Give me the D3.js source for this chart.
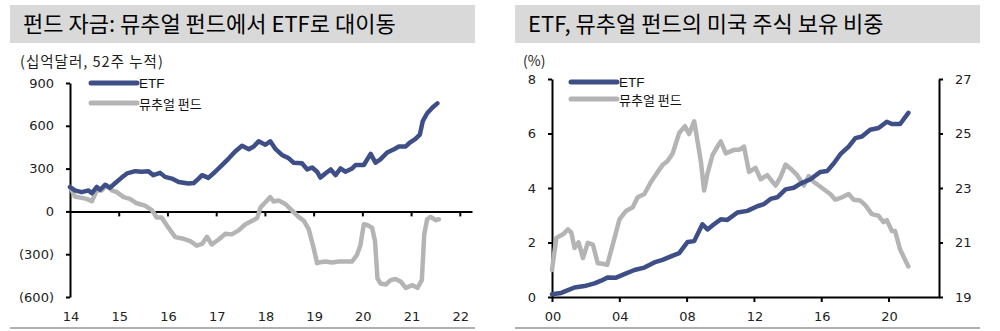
<!DOCTYPE html>
<html>
<head>
<meta charset="utf-8">
<script src="https://cdn.jsdelivr.net/npm/d3@7"></script>
<style>
  body { margin: 0; background: #fff; }
  svg { display: block; }
  .tick text { font-family: "DejaVu Sans", sans-serif; }
</style>
</head>
<body>
<svg id="chart" width="1000" height="331"></svg>
<script>
// ---------- Left chart: fund flows (USD bn, 52-week cumulative) ----------
const flowEtfYears = [2014.00,2014.10,2014.24,2014.38,2014.45,2014.55,2014.62,2014.72,2014.82,2014.93,2015.06,2015.17,2015.34,2015.47,2015.61,2015.71,2015.85,2015.95,2016.09,2016.23,2016.43,2016.54,2016.64,2016.71,2016.84,2016.98,2017.12,2017.26,2017.39,2017.53,2017.67,2017.77,2017.87,2018.01,2018.11,2018.22,2018.35,2018.49,2018.59,2018.76,2018.87,2018.97,2019.07,2019.14,2019.24,2019.35,2019.45,2019.55,2019.65,2019.79,2019.86,2020.03,2020.17,2020.27,2020.37,2020.51,2020.65,2020.75,2020.89,2020.96,2021.09,2021.18,2021.24,2021.33,2021.44,2021.54];
const flowEtf = [171,147,135,147,128,171,152,187,166,199,237,266,282,278,282,254,270,242,230,206,195,199,230,254,235,278,325,372,420,460,436,455,491,467,491,436,396,372,341,337,294,308,278,237,266,294,254,301,278,301,325,325,403,341,365,413,436,455,455,479,508,538,633,688,728,757];

const flowMfYears = [2014.00,2014.10,2014.24,2014.34,2014.45,2014.55,2014.65,2014.75,2014.86,2014.96,2015.10,2015.23,2015.37,2015.54,2015.68,2015.78,2015.88,2016.02,2016.16,2016.33,2016.47,2016.60,2016.71,2016.81,2016.91,2017.05,2017.19,2017.32,2017.46,2017.60,2017.74,2017.84,2017.91,2018.01,2018.11,2018.18,2018.28,2018.42,2018.56,2018.69,2018.80,2018.90,2019.00,2019.07,2019.14,2019.24,2019.38,2019.52,2019.65,2019.79,2019.89,2019.96,2020.03,2020.10,2020.20,2020.26,2020.31,2020.37,2020.48,2020.58,2020.68,2020.79,2020.89,2021.03,2021.13,2021.22,2021.27,2021.33,2021.40,2021.51,2021.57];
const flowMf = [171,104,95,88,71,147,147,183,147,135,100,88,57,40,9,-43,-43,-114,-180,-192,-209,-240,-228,-178,-232,-197,-157,-161,-133,-90,-66,-47,28,64,100,69,76,52,5,-38,-66,-126,-256,-363,-356,-351,-358,-351,-351,-351,-304,-237,-90,-95,-114,-209,-470,-505,-512,-482,-474,-493,-536,-517,-536,-482,-161,-55,-38,-62,-55];

const flowYTicks = [-600,-300,0,300,600,900];
const flowXTicks = [2014,2015,2016,2017,2018,2019,2020,2021,2022];

// ---------- Right chart: share of US equity held (%) ----------
const shareEtfYears = [2000.00,2000.55,2000.95,2001.34,2001.93,2002.53,2002.92,2003.32,2003.81,2004.30,2004.90,2005.49,2006.08,2006.57,2007.07,2007.56,2008.06,2008.45,2008.94,2009.24,2009.63,2010.03,2010.42,2011.02,2011.61,2012.20,2012.60,2012.99,2013.39,2013.88,2014.37,2014.77,2015.36,2015.95,2016.35,2016.74,2017.14,2017.63,2018.03,2018.42,2018.91,2019.41,2019.90,2020.20,2020.69,2021.18];
const shareEtf = [0.10,0.15,0.25,0.35,0.40,0.50,0.60,0.72,0.71,0.84,0.99,1.08,1.27,1.36,1.49,1.61,2.02,2.05,2.67,2.48,2.67,2.85,2.83,3.10,3.16,3.33,3.41,3.60,3.66,3.95,4.01,4.16,4.32,4.59,4.62,4.90,5.24,5.52,5.83,5.89,6.14,6.20,6.43,6.35,6.35,6.76];

const shareMfYears = [2000.00,2000.26,2000.65,2000.95,2001.15,2001.34,2001.58,2001.84,2002.13,2002.43,2002.72,2003.02,2003.28,2003.61,2004.01,2004.40,2004.80,2005.09,2005.49,2005.88,2006.28,2006.57,2006.87,2007.17,2007.56,2007.90,2008.15,2008.45,2008.65,2008.85,2009.04,2009.24,2009.54,2009.83,2010.03,2010.33,2010.82,2011.12,2011.41,2011.71,2012.10,2012.40,2012.79,2013.29,2013.58,2013.88,2014.18,2014.57,2014.97,2015.26,2015.56,2015.85,2016.25,2016.54,2016.84,2017.24,2017.63,2017.93,2018.32,2018.62,2019.01,2019.41,2019.70,2019.90,2020.20,2020.39,2020.69,2021.18];
const shareMf = [19.99,21.17,21.30,21.48,21.36,20.80,21.01,20.43,20.99,20.92,20.24,20.22,20.18,20.92,21.85,22.16,22.29,22.66,22.78,23.22,23.59,23.84,23.99,24.27,25.02,25.27,24.98,25.45,24.71,23.96,22.91,23.53,24.21,24.52,24.71,24.27,24.40,24.40,24.52,23.59,23.74,23.32,23.47,23.09,23.40,23.86,23.71,23.47,23.09,23.44,23.22,23.09,22.91,22.78,22.57,22.66,22.78,22.57,22.54,22.37,22.04,21.98,21.75,21.82,21.42,21.42,20.74,20.12];

const shareYTicksL = [0,2,4,6,8];
const shareYTicksR = [19,21,23,25,27];
const shareXTicks = [2000,2004,2008,2012,2016,2020];

const seriesNames = ["ETF", "뮤추얼 펀드"];
const titles = ["펀드 자금: 뮤추얼 펀드에서 ETF로 대이동", "ETF, 뮤추얼 펀드의 미국 주식 보유 비중"];
const unitLabels = ["(십억달러, 52주 누적)", "(%)"];

// ---------- styles ----------
const C_ETF = "#3e4f87";
const C_MF = "#b4b4b4";
const KR = "'Noto Sans CJK KR', 'Noto Sans', sans-serif";
const LAT = "'Liberation Sans', Arial, sans-serif";
const NUM = "'DejaVu Sans', sans-serif";

const svg = d3.select("#chart");

function panel(x0, x1, title) {
  svg.append("rect").attr("x", x0).attr("y", 5).attr("width", x1 - x0).attr("height", 38).attr("fill", "#d9d9d9");
  svg.append("text").attr("x", x0 + 13).attr("y", 32).text(title)
    .attr("font-family", KR).attr("font-size", 22).attr("font-weight", 400).attr("fill", "#000");
  svg.append("line").attr("x1", x0).attr("x2", x1).attr("y1", 328).attr("y2", 328)
    .attr("stroke", "#b0b0b0").attr("stroke-width", 2);
}

function styleAxis(g) {
  g.select(".domain").attr("stroke", "#000").attr("stroke-width", 2);
  g.selectAll(".tick line").attr("stroke", "#000").attr("stroke-width", 2);
  g.selectAll(".tick text").attr("font-size", 13).attr("fill", "#222");
}

function legend(x, y1, y2) {
  svg.append("line").attr("x1", x).attr("x2", x + 46).attr("y1", y1).attr("y2", y1)
    .attr("stroke", C_ETF).attr("stroke-width", 5).attr("stroke-linecap", "round");
  svg.append("text").attr("x", x + 48).attr("y", y1 + 4.5).text(seriesNames[0])
    .attr("font-family", LAT).attr("font-size", 13.5).attr("fill", "#111");
  svg.append("line").attr("x1", x).attr("x2", x + 46).attr("y1", y2).attr("y2", y2)
    .attr("stroke", C_MF).attr("stroke-width", 5).attr("stroke-linecap", "round");
  svg.append("text").attr("x", x + 48).attr("y", y2 + 6).text(seriesNames[1])
    .attr("font-family", KR).attr("font-size", 13).attr("fill", "#111");
}

function drawLine(xs, ys, xScale, yScale, col) {
  const pts = xs.map((x, i) => [x, ys[i]]);
  svg.append("path").datum(pts)
    .attr("fill", "none").attr("stroke", col).attr("stroke-width", 4.5)
    .attr("stroke-linejoin", "round").attr("stroke-linecap", "round")
    .attr("d", d3.line().x(d => xScale(d[0])).y(d => yScale(d[1])));
}

// ---------- Left panel ----------
panel(10, 475, titles[0]);
const xL = d3.scaleLinear().domain([2014, 2022.25]).range([70, 472]);
const yL = d3.scaleLinear().domain([-600, 900]).range([297, 83]);

svg.append("text").attr("x", 20).attr("y", 67).text(unitLabels[0])
  .attr("font-family", KR).attr("font-size", 14.5).attr("letter-spacing", 1).attr("fill", "#222");

const gyL = svg.append("g").attr("transform", "translate(70,0)")
  .call(d3.axisLeft(yL).tickValues(flowYTicks).tickSize(4).tickSizeOuter(0).tickPadding(12)
    .tickFormat(d => d < 0 ? "(" + Math.abs(d) + ")" : String(d)));
styleAxis(gyL);

const gxL = svg.append("g").attr("transform", `translate(0,${yL(0)})`)
  .call(d3.axisBottom(xL).tickValues(flowXTicks.slice(1)).tickSize(5).tickSizeOuter(0).tickFormat(""));
styleAxis(gxL);

svg.append("g").selectAll("text").data(flowXTicks).join("text")
  .attr("x", d => xL(d) + 1).attr("y", 321).attr("text-anchor", "middle")
  .attr("font-family", NUM).attr("font-size", 13).attr("fill", "#222")
  .text(d => String(d).slice(2));

drawLine(flowMfYears, flowMf, xL, yL, C_MF);
drawLine(flowEtfYears, flowEtf, xL, yL, C_ETF);
legend(91, 83, 103);

// ---------- Right panel ----------
panel(515, 980, titles[1]);
const xR = d3.scaleLinear().domain([2000, 2023]).range([552, 939]);
const yR = d3.scaleLinear().domain([0, 8]).range([297, 79]);
const yR2 = d3.scaleLinear().domain([19, 27]).range([297, 79]);

svg.append("text").attr("x", 523).attr("y", 66).text(unitLabels[1])
  .attr("font-family", KR).attr("font-size", 14).attr("fill", "#222");

const gyR = svg.append("g").attr("transform", "translate(552,0)")
  .call(d3.axisLeft(yR).tickValues(shareYTicksL).tickSize(4).tickSizeOuter(0).tickPadding(12));
styleAxis(gyR);

const gyR2 = svg.append("g").attr("transform", "translate(939,0)")
  .call(d3.axisRight(yR2).tickValues(shareYTicksR).tickSize(4).tickSizeOuter(0).tickPadding(12));
styleAxis(gyR2);

const gxR = svg.append("g").attr("transform", `translate(0,${yR(0)})`)
  .call(d3.axisBottom(xR).tickValues(shareXTicks).tickSize(5).tickSizeOuter(0).tickFormat(""));
styleAxis(gxR);

svg.append("g").selectAll("text").data(shareXTicks).join("text")
  .attr("x", d => xR(d) + 1).attr("y", 321).attr("text-anchor", "middle")
  .attr("font-family", NUM).attr("font-size", 13).attr("fill", "#222")
  .text(d => String(d).slice(2));

drawLine(shareMfYears, shareMf, xR, yR2, C_MF);
drawLine(shareEtfYears, shareEtf, xR, yR, C_ETF);
legend(571, 82, 99);
</script>
</body>
</html>
